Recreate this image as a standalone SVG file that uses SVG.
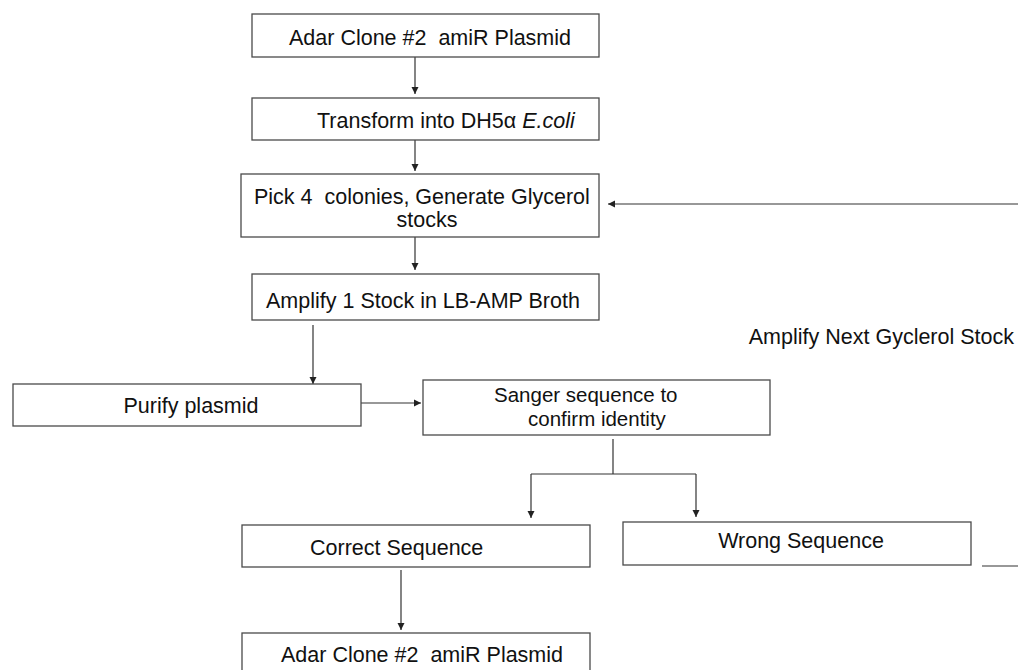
<svg xmlns="http://www.w3.org/2000/svg" width="1018" height="670" viewBox="0 0 1018 670">
<defs>
<marker id="ah" markerWidth="8" markerHeight="8" refX="7" refY="4" orient="auto" markerUnits="userSpaceOnUse">
<path d="M0,0.5 L7,4 L0,7.5 Z" fill="#222"/>
</marker>
<style>
.box{fill:#fff;stroke:#4a4a4a;stroke-width:1.3}
.t{font-family:"Liberation Sans",Arial,sans-serif;font-size:21.5px;fill:#111;white-space:pre}
.s{font-size:20.5px}
.c{fill:none;stroke:#333;stroke-width:1.2}
</style>
</defs>
<rect width="1018" height="670" fill="#fff"/>
<g id="connectors">
<line class="c" x1="415" y1="57" x2="415" y2="94" marker-end="url(#ah)"/>
<line class="c" x1="415" y1="140" x2="415" y2="171" marker-end="url(#ah)"/>
<line class="c" x1="415" y1="237" x2="415" y2="270" marker-end="url(#ah)"/>
<line class="c" x1="313" y1="325" x2="313" y2="384" marker-end="url(#ah)"/>
<line class="c" x1="361" y1="403" x2="421" y2="403" marker-end="url(#ah)"/>
<polyline class="c" points="613,439 613,474"/>
<polyline class="c" points="531,474 696,474"/>
<line class="c" x1="531" y1="474" x2="531" y2="518" marker-end="url(#ah)"/>
<line class="c" x1="696" y1="474" x2="696" y2="517" marker-end="url(#ah)"/>
<line class="c" x1="401" y1="570" x2="401" y2="630" marker-end="url(#ah)"/>
<line class="c" x1="1018" y1="204" x2="608" y2="204" marker-end="url(#ah)"/>
<line class="c" x1="982" y1="566" x2="1018" y2="566"/>
</g>
<g id="n1"><rect class="box" x="252" y="14" width="347" height="43"/><text class="t" x="289" y="45">Adar Clone #2  amiR Plasmid</text></g>
<g id="n2"><rect class="box" x="252" y="98" width="347" height="42"/><text class="t" x="317" y="128">Transform into DH5α <tspan font-style="italic">E.coli</tspan></text></g>
<g id="n3"><rect class="box" x="241" y="174" width="358" height="63"/><text class="t" x="254" y="204">Pick 4  colonies, Generate Glycerol</text><text class="t" x="427" y="227" text-anchor="middle">stocks</text></g>
<g id="n4"><rect class="box" x="252" y="274" width="347" height="46"/><text class="t" x="266" y="308">Amplify 1 Stock in LB-AMP Broth</text></g>
<g id="n5"><rect class="box" x="13" y="384" width="348" height="42"/><text class="t" x="191" y="413" text-anchor="middle">Purify plasmid</text></g>
<g id="n6"><rect class="box" x="423" y="380" width="347" height="55"/><text class="t s" x="494" y="402">Sanger sequence to</text><text class="t s" x="528" y="426">confirm identity</text></g>
<g id="n7"><rect class="box" x="242" y="525" width="348" height="42"/><text class="t" x="310" y="555">Correct Sequence</text></g>
<g id="n8"><rect class="box" x="623" y="522" width="348" height="43"/><text class="t" x="801" y="548" text-anchor="middle">Wrong Sequence</text></g>
<g id="n9"><rect class="box" x="242" y="633" width="348" height="45"/><text class="t" x="281" y="662">Adar Clone #2  amiR Plasmid</text></g>
<g id="label"><text class="t" x="1014" y="344" text-anchor="end">Amplify Next Gyclerol Stock</text></g>
</svg>
